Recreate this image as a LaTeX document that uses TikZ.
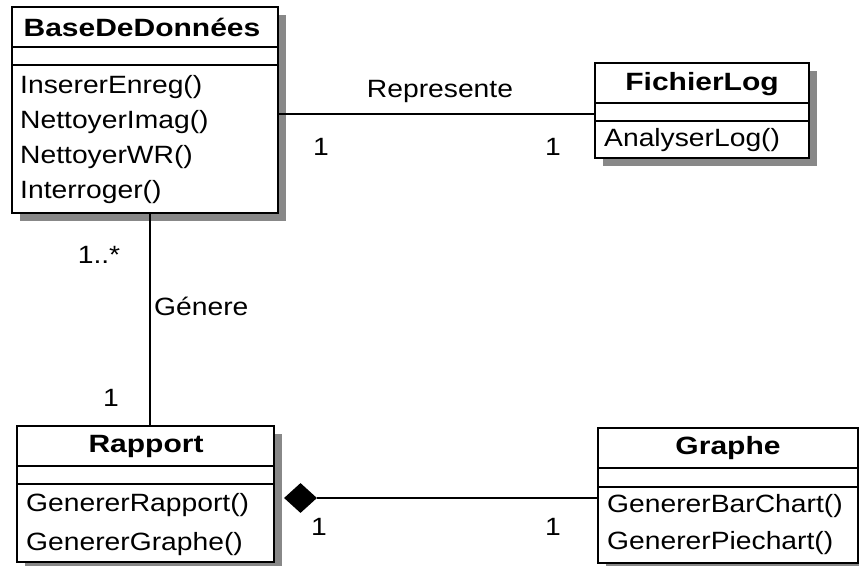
\documentclass[tikz,border=0pt]{standalone}
\usepackage{fontspec}
\setmainfont{Liberation Sans}[FakeStretch=1.13]
\newfontfamily\titlefont{Liberation Sans}[FakeStretch=1.2]
\usetikzlibrary{shapes.geometric,shadows}
\definecolor{shadowgray}{RGB}{136,136,136}

\begin{document}
\begin{tikzpicture}[x=1pt,y=-1pt,
  every node/.style={font=\fontsize{25}{30}\selectfont, inner sep=0pt},
  classbox/.style={draw=black, line width=2pt, fill=white, outer sep=0pt,
    general shadow={fill=shadowgray, shadow xshift=8pt, shadow yshift=-8pt}},
  classname/.style={font=\fontsize{25}{30}\selectfont\titlefont\bfseries},
  method/.style={anchor=west},
  rule/.style={line width=2pt},
  conn/.style={line width=2pt},
  mult/.style={}
]
\useasboundingbox (0,0) rectangle (859,565);

% ---- classes ----
\node[classbox, minimum width=266pt, minimum height=206pt] (bdd) at (145,110) {};
\node[classbox, minimum width=214pt, minimum height=95pt]  (fl)  at (702,110.5) {};
\node[classbox, minimum width=257pt, minimum height=136pt] (rap) at (145.5,494) {};
\node[classbox, minimum width=260pt, minimum height=135pt] (gra) at (728,495.5) {};

% compartment rules
\draw[rule] (bdd.west |- 0,47) -- (bdd.east |- 0,47);
\draw[rule] (bdd.west |- 0,65) -- (bdd.east |- 0,65);
\draw[rule] (fl.west |- 0,103) -- (fl.east |- 0,103);
\draw[rule] (fl.west |- 0,121) -- (fl.east |- 0,121);
\draw[rule] (rap.west |- 0,466) -- (rap.east |- 0,466);
\draw[rule] (rap.west |- 0,484) -- (rap.east |- 0,484);
\draw[rule] (gra.west |- 0,468) -- (gra.east |- 0,468);
\draw[rule] (gra.west |- 0,487) -- (gra.east |- 0,487);

% names
\node[classname] (bddName) at (142,27)  {BaseDeDonnées};
\node[classname] (flName)  at (702,84)  {FichierLog};
\node[classname] (rapName) at (146,446) {Rapport};
\node[classname] (graName) at (728,448) {Graphe};

% operations
\node[method] (bddOp1) at (20,87)  {InsererEnreg()};
\node[method] (bddOp2) at (20,122) {NettoyerImag()};
\node[method] (bddOp3) at (20,157) {NettoyerWR()};
\node[method] (bddOp4) at (20,192) {Interroger()};
\node[method] (flOp1)  at (604,140) {AnalyserLog()};
\node[method] (rapOp1) at (26,505) {GenererRapport()};
\node[method] (rapOp2) at (26,544) {GenererGraphe()};
\node[method] (graOp1) at (607,506) {GenererBarChart()};
\node[method] (graOp2) at (607,543) {GenererPiechart()};

% ---- associations ----
\draw[conn] (bdd.east |- 0,114) -- (fl.west |- 0,114);
\draw[conn] (bdd.south -| 150,0) -- (rap.north -| 150,0);
\node[diamond, fill=black, minimum width=33pt, minimum height=30pt] (agg) at (300.5,498) {};
\draw[conn] (agg.east) -- (gra.west |- agg.east);

% labels and multiplicities
\node (lblRep) at (440,91)  {Represente};
\node (mRep1)  at (321,147) {1};
\node (mRep2)  at (553,147) {1};
\node (mGen1)  at (99,255)  {1..*};
\node[anchor=west] (lblGen) at (154,306) {Génere};
\node (mGen2)  at (111,398) {1};
\node (mAgg1)  at (319,527) {1};
\node (mAgg2)  at (553,527) {1};
\end{tikzpicture}
\end{document}
